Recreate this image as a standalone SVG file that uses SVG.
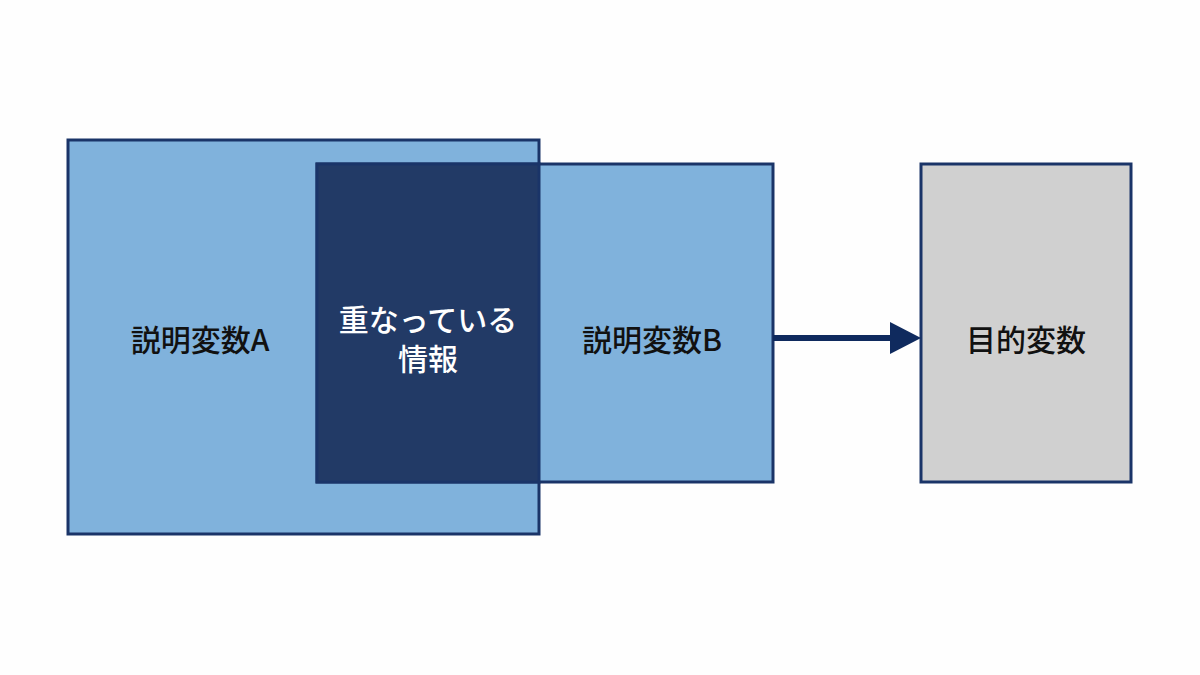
<svg xmlns="http://www.w3.org/2000/svg" width="1200" height="675" viewBox="0 0 1200 675">
<style>
.box{stroke:#1a3468;stroke-width:3}
.t{font-family:"Noto Sans CJK JP","Noto Sans",sans-serif;font-size:30px;font-weight:500;text-anchor:middle;dominant-baseline:central}
</style>
<rect width="1200" height="675" fill="#fefefe"/>
<g id="nodeA"><rect class="box" x="68" y="140" width="471" height="394" fill="#80b2dc"/><text class="t" x="200" y="338" fill="#111">説明変数A</text></g>
<g id="nodeB"><rect class="box" x="317" y="164" width="456" height="318" fill="#80b2dc"/><text class="t" x="652" y="338" fill="#111">説明変数B</text></g>
<g id="overlap"><rect class="box" x="317" y="164" width="222" height="318" fill="#223a66"/><text class="t" x="428" y="318" fill="#fff">重なっている</text><text class="t" x="428" y="357" fill="#fff">情報</text></g>
<g id="target"><rect class="box" x="921" y="164" width="210" height="318" fill="#d0d0d0"/><text class="t" x="1026" y="338" fill="#111">目的変数</text></g>
<g id="connectors"><line x1="773" y1="338" x2="894" y2="338" stroke="#0f2a5e" stroke-width="6"/><path d="M890,322L921,338L890,354z" fill="#0f2a5e"/></g>
</svg>
